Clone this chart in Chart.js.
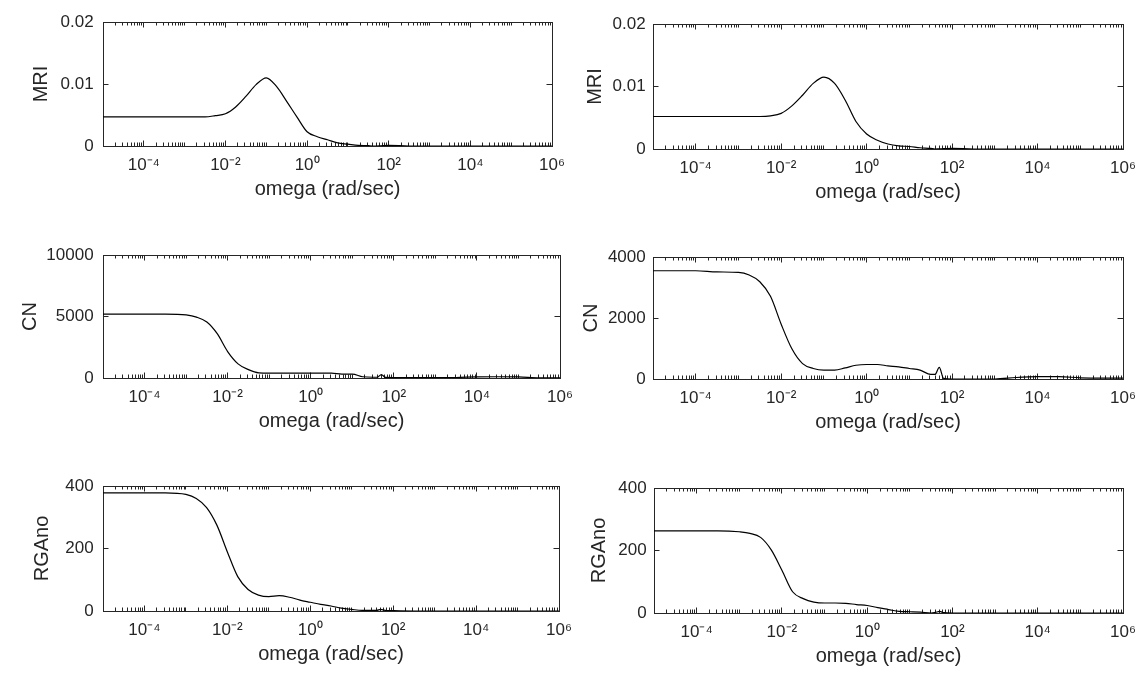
<!DOCTYPE html>
<html>
<head>
<meta charset="utf-8">
<script src="https://cdn.jsdelivr.net/npm/chart.js@4.4.0/dist/chart.umd.min.js"></script>
<style>
html,body{margin:0;padding:0;background:#fff;width:1137px;height:676px;overflow:hidden;position:relative}
canvas{position:absolute}
</style>
</head>
<body>
<script>
// ---- data ----
const omega = [1e-5, 1e-4, 3.16e-4, 1e-3, 1.78e-3, 3.16e-3, 5.62e-3, 1e-2, 1.78e-2, 3.16e-2, 5.62e-2,
  0.1, 0.178, 0.316, 0.562, 1, 1.78, 3.16, 5.62, 10, 17.8, 31.6, 39.8, 50.1, 63.1, 100,
  316, 1e3, 3162, 1e4, 31623, 1e5, 316228, 1e6];

const mriA = [0.0047, 0.0047, 0.0047, 0.0047, 0.0047, 0.0047, 0.0049, 0.0052, 0.0063, 0.0080, 0.0099,
  0.0110, 0.0096, 0.0072, 0.0047, 0.0023, 0.0015, 0.0010, 0.0005, 0.0003, 0.0001, 0.00005, 0, 0, 0.00003, 0.0001,
  0, 0, 0, 0, 0, 0, 0, 0];
const mriB = [0.0052, 0.0052, 0.0052, 0.0052, 0.0052, 0.0052, 0.0053, 0.0057, 0.0069, 0.0086, 0.0105,
  0.0115, 0.0105, 0.0078, 0.0044, 0.0024, 0.0014, 0.0008, 0.0005, 0.0004, 0.0002, 0.0001, 0, 0.00003, 0.00005, 0.0001,
  0, 0, 0, 0, 0, 0, 0, 0];
const cnA = [5200, 5200, 5200, 5130, 4950, 4550, 3600, 2150, 1150, 680, 420,
  400, 400, 400, 400, 400, 400, 400, 320, 320, 100, 60, 60, 280, 50, 40,
  30, 30, 40, 90, 100, 90, 20, 20];
const cnB = [3550, 3550, 3510, 3495, 3410, 3190, 2710, 1795, 990, 505, 345,
  290, 290, 365, 450, 475, 475, 430, 400, 345, 290, 150, 150, 380, 20, 0,
  0, 0, 50, 75, 75, 40, 30, 30];
const rgaA = [378, 378, 378, 373, 360, 331, 274, 189, 110, 69, 51,
  46, 49, 44, 35, 28, 21, 16, 9, 5, 2, 2, 2, 5, 2, 1,
  0, 0, 0, 0, 0, 0, 0, 0];
const rgaB = [263, 263, 263, 260, 255, 242, 202, 137, 68, 46, 35,
  32, 32, 31, 27, 24, 17, 11, 5, 4, 3, 0, 2, 5, 1, 0,
  0, 0, 0, 0, 0, 0, 0, 0];

const xMajorTicks = [1e-4, 1e-2, 1, 1e2, 1e4, 1e6];
const xTickLabels = ['10\u207B\u2074', '10\u207B\u00B2', '10\u2070', '10\u00B2', '10\u2074', '10\u2076'];
const xTitle = 'omega (rad/sec)';

const yTicksMRI = [0, 0.01, 0.02];   const yLabelsMRI = ['0', '0.01', '0.02'];
const yTicksCNA = [0, 5000, 10000];  const yLabelsCNA = ['0', '5000', '10000'];
const yTicksCNB = [0, 2000, 4000];   const yLabelsCNB = ['0', '2000', '4000'];
const yTicksRGA = [0, 200, 400];     const yLabelsRGA = ['0', '200', '400'];

// ---- layout ----
const XMIN = 1e-5, XMAX = 1e6;
const FONT = "'Liberation Sans', Arial, Helvetica, sans-serif";
const TXT = '#262626';
const TICK_FONT = 17, TITLE_FONT = 20;

const panels = [
  {values: mriA, yTitle: 'MRI',   yTicks: yTicksMRI, yLabels: yLabelsMRI, box: [103, 22, 552, 146],  yTitleX: 41,  yGap: 9.4},
  {values: mriB, yTitle: 'MRI',   yTicks: yTicksMRI, yLabels: yLabelsMRI, box: [653, 24, 1123, 149], yTitleX: 595, yGap: 7.3},
  {values: cnA,  yTitle: 'CN',    yTicks: yTicksCNA, yLabels: yLabelsCNA, box: [103, 255, 560, 378], yTitleX: 30,  yGap: 9.4},
  {values: cnB,  yTitle: 'CN',    yTicks: yTicksCNB, yLabels: yLabelsCNB, box: [653, 257, 1123, 379], yTitleX: 591, yGap: 7.3},
  {values: rgaA, yTitle: 'RGAno', yTicks: yTicksRGA, yLabels: yLabelsRGA, box: [103, 486, 559, 611], yTitleX: 42,  yGap: 9.4},
  {values: rgaB, yTitle: 'RGAno', yTicks: yTicksRGA, yLabels: yLabelsRGA, box: [654, 488, 1123, 613], yTitleX: 599, yGap: 7.3}
];

// minor log tick positions (1..9 x 10^e)
const xAllTicks = [];
for (let e = -5; e < 6; e++) for (let m = 1; m <= 9; m++) xAllTicks.push(+(m + 'e' + e));
xAllTicks.push(1e6);

function xLabel(v) {
  const i = xMajorTicks.findIndex(t => Math.abs(Math.log10(t) - Math.log10(v)) < 1e-6);
  return i >= 0 ? xTickLabels[i] : '';
}
const zeroPad = s => { s.paddingLeft = 0; s.paddingRight = 0; s.paddingTop = 0; s.paddingBottom = 0; };
const gridOpts = len => ({drawOnChartArea: false, drawTicks: true, tickLength: -len, tickColor: TXT, tickWidth: 1});
const borderOpts = show => ({display: show, color: TXT, width: 1});

function extraX(position, tickValues, len, weight) {
  return {
    type: 'logarithmic', position: position, min: XMIN, max: XMAX, weight: weight,
    afterBuildTicks: s => { s.ticks = tickValues.map(v => ({value: v})); },
    afterFit: s => { s.height = 0; zeroPad(s); },
    grid: gridOpts(len), border: borderOpts(true),
    ticks: {display: false, autoSkip: false}
  };
}

panels.forEach(p => {
  const [L, T, R, B] = p.box;
  const PADL = 100, PADT = 20, PADR = 30, XH = 62;
  const x0 = L - PADL, y0 = T - PADT, w = R - L + PADL + PADR, h = B - T + PADT + XH;
  const cv = document.createElement('canvas');
  cv.width = w; cv.height = h;
  cv.style.left = x0 + 'px'; cv.style.top = y0 + 'px';
  cv.style.width = w + 'px'; cv.style.height = h + 'px';
  document.body.appendChild(cv);

  const yMin = p.yTicks[0], yMax = p.yTicks[p.yTicks.length - 1];

  new Chart(cv, {
    type: 'line',
    data: {
      datasets: [{
        data: omega.map((o, i) => ({x: o, y: p.values[i]})),
        borderColor: '#000', borderWidth: 1.2, pointRadius: 0, fill: false,
        cubicInterpolationMode: 'monotone'
      }]
    },
    options: {
      responsive: false, animation: false, devicePixelRatio: 1,
      layout: {padding: {left: 0, top: PADT, right: PADR, bottom: 0}},
      plugins: {legend: {display: false}, tooltip: {enabled: false}},
      scales: {
        xMaj: extraX('bottom', xMajorTicks, 5.5, -2),
        x: {
          type: 'logarithmic', position: 'bottom', min: XMIN, max: XMAX, weight: 0,
          afterBuildTicks: s => { s.ticks = xAllTicks.map(v => ({value: v})); },
          afterFit: s => { s.height = XH; zeroPad(s); },
          grid: gridOpts(3.5), border: borderOpts(true),
          ticks: {autoSkip: false, maxRotation: 0, minRotation: 0, padding: 12.5, color: TXT,
                  font: {family: FONT, size: TICK_FONT}, callback: v => xLabel(v)},
          title: {display: true, text: xTitle, color: TXT, font: {family: FONT, size: TITLE_FONT},
                  padding: {top: 0, bottom: 7}}
        },
        xTopMaj: extraX('top', xMajorTicks, 5.5, -2),
        xTop: extraX('top', xAllTicks, 3.5, 0),
        y: {
          type: 'linear', position: 'left', min: yMin, max: yMax,
          afterBuildTicks: s => { s.ticks = p.yTicks.map(v => ({value: v})); },
          afterFit: s => { s.width = PADL; zeroPad(s); },
          grid: gridOpts(5.5), border: borderOpts(true),
          ticks: {autoSkip: false, padding: p.yGap + 5.5, color: TXT, font: {family: FONT, size: TICK_FONT},
                  callback: v => { const i = p.yTicks.indexOf(v); return i >= 0 ? p.yLabels[i] : ''; }},
          title: {display: true, text: p.yTitle, color: TXT, font: {family: FONT, size: TITLE_FONT},
                  padding: {top: p.yTitleX - x0 - TITLE_FONT * 0.6, bottom: 0}}
        },
        y2: {
          type: 'linear', position: 'right', min: yMin, max: yMax,
          afterBuildTicks: s => { s.ticks = p.yTicks.map(v => ({value: v})); },
          afterFit: s => { s.width = 0; zeroPad(s); },
          grid: gridOpts(5.5), border: borderOpts(true),
          ticks: {display: false, autoSkip: false}
        }
      }
    }
  });
});
</script>
</body>
</html>
